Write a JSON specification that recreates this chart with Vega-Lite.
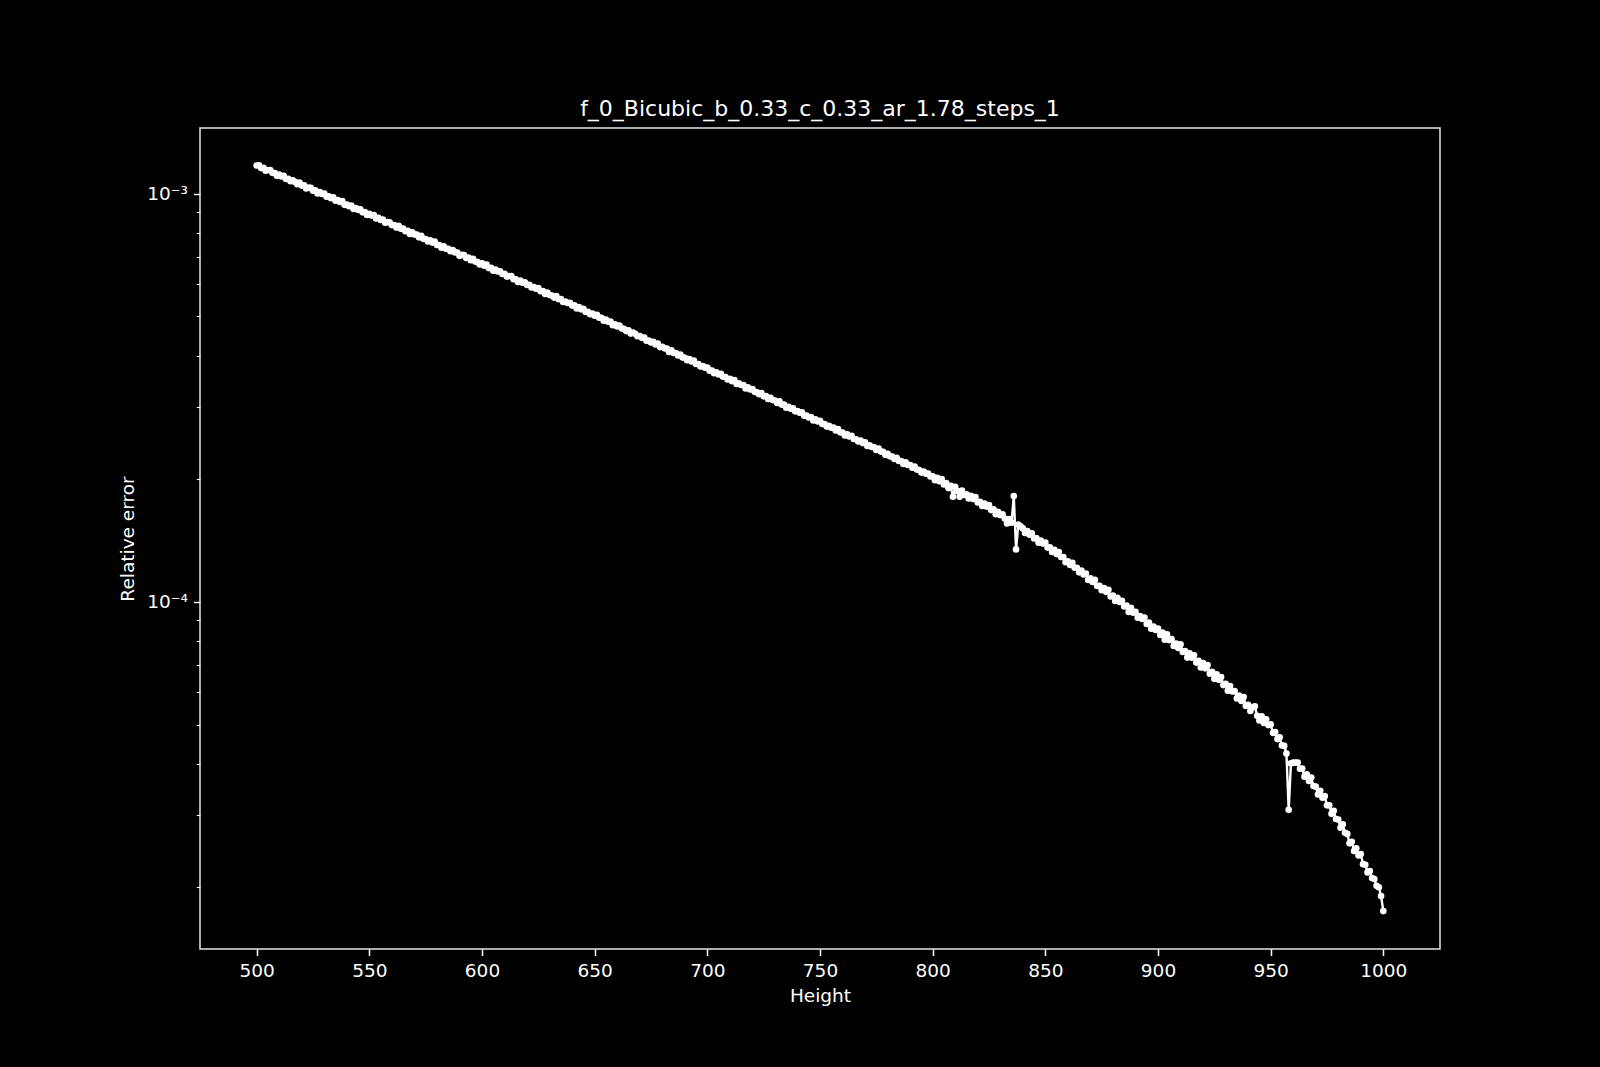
{
"$schema": "https://vega.github.io/schema/vega-lite/v6.json",
"width": 1240,
"height": 821,
"autosize": {"type": "none"},
"padding": {"left": 200, "top": 128, "right": 160, "bottom": 118},
"background": "black",
"config": {"view": {"stroke": "#e6e6e6", "strokeWidth": 1.5}, "font": "DejaVu Sans"},
"title": {"text": "f_0_Bicubic_b_0.33_c_0.33_ar_1.78_steps_1", "font": "DejaVu Sans", "fontSize": 22, "fontWeight": "normal", "color": "white", "baseline": "alphabetic", "offset": -10, "frame": "group"},
"data": {"values": [
{"h":500,"e":0.0011722},{"h":501,"e":0.0011728},{"h":502,"e":0.0011548},{"h":503,"e":0.0011565},{"h":504,"e":0.0011374},{"h":505,"e":0.0011425},{"h":506,"e":0.0011419},{"h":507,"e":0.0011244},{"h":508,"e":0.0011227},{"h":509,"e":0.0011054},
{"h":510,"e":0.0011136},{"h":511,"e":0.001101},{"h":512,"e":0.0011059},{"h":513,"e":0.0010856},{"h":514,"e":0.0010872},{"h":515,"e":0.0010725},{"h":516,"e":0.0010785},{"h":517,"e":0.0010683},{"h":518,"e":0.0010539},{"h":519,"e":0.0010649},
{"h":520,"e":0.0010464},{"h":521,"e":0.001048},{"h":522,"e":0.0010298},{"h":523,"e":0.0010345},{"h":524,"e":0.0010328},{"h":525,"e":0.0010168},{"h":526,"e":0.0010183},{"h":527,"e":0.0010007},{"h":528,"e":0.0010092},{"h":529,"e":0.0009977},
{"h":530,"e":0.0010001},{"h":531,"e":0.0009828},{"h":532,"e":0.0009843},{"h":533,"e":0.000974},{"h":534,"e":0.0009793},{"h":535,"e":0.0009603},{"h":536,"e":0.0009646},{"h":537,"e":0.0009536},{"h":538,"e":0.0009589},{"h":539,"e":0.0009384},
{"h":540,"e":0.0009406},{"h":541,"e":0.0009309},{"h":542,"e":0.0009351},{"h":543,"e":0.0009169},{"h":544,"e":0.000922},{"h":545,"e":0.0009123},{"h":546,"e":0.0009155},{"h":547,"e":0.0008996},{"h":548,"e":0.000901},{"h":549,"e":0.0008862},
{"h":550,"e":0.0008928},{"h":551,"e":0.0008834},{"h":552,"e":0.0008864},{"h":553,"e":0.0008692},{"h":554,"e":0.0008721},{"h":555,"e":0.000862},{"h":556,"e":0.0008641},{"h":557,"e":0.0008482},{"h":558,"e":0.0008511},{"h":559,"e":0.0008505},
{"h":560,"e":0.0008372},{"h":561,"e":0.0008376},{"h":562,"e":0.0008255},{"h":563,"e":0.000834},{"h":564,"e":0.0008204},{"h":565,"e":0.0008206},{"h":566,"e":0.0008087},{"h":567,"e":0.0008107},{"h":568,"e":0.0007965},{"h":569,"e":0.000804},
{"h":570,"e":0.0007939},{"h":571,"e":0.0007935},{"h":572,"e":0.0007812},{"h":573,"e":0.0007878},{"h":574,"e":0.0007748},{"h":575,"e":0.0007742},{"h":576,"e":0.000763},{"h":577,"e":0.0007679},{"h":578,"e":0.0007584},{"h":579,"e":0.0007624},
{"h":580,"e":0.0007483},{"h":581,"e":0.0007478},{"h":582,"e":0.0007371},{"h":583,"e":0.0007432},{"h":584,"e":0.0007325},{"h":585,"e":0.0007327},{"h":586,"e":0.0007228},{"h":587,"e":0.0007275},{"h":588,"e":0.0007176},{"h":589,"e":0.0007172},
{"h":590,"e":0.0007038},{"h":591,"e":0.0007077},{"h":592,"e":0.0007066},{"h":593,"e":0.0006956},{"h":594,"e":0.0006966},{"h":595,"e":0.0006865},{"h":596,"e":0.0006923},{"h":597,"e":0.0006815},{"h":598,"e":0.0006798},{"h":599,"e":0.0006705},
{"h":600,"e":0.0006748},{"h":601,"e":0.0006656},{"h":602,"e":0.0006698},{"h":603,"e":0.0006568},{"h":604,"e":0.0006576},{"h":605,"e":0.0006473},{"h":606,"e":0.0006514},{"h":607,"e":0.0006445},{"h":608,"e":0.0006453},{"h":609,"e":0.0006352},
{"h":610,"e":0.000636},{"h":611,"e":0.0006261},{"h":612,"e":0.0006283},{"h":613,"e":0.0006284},{"h":614,"e":0.0006168},{"h":615,"e":0.0006169},{"h":616,"e":0.0006073},{"h":617,"e":0.0006123},{"h":618,"e":0.0006047},{"h":619,"e":0.0006066},
{"h":620,"e":0.0005971},{"h":621,"e":0.0005979},{"h":622,"e":0.0005886},{"h":623,"e":0.00059},{"h":624,"e":0.0005849},{"h":625,"e":0.0005868},{"h":626,"e":0.0005765},{"h":627,"e":0.0005772},{"h":628,"e":0.0005675},{"h":629,"e":0.0005722},
{"h":630,"e":0.0005643},{"h":631,"e":0.0005628},{"h":632,"e":0.0005562},{"h":633,"e":0.0005607},{"h":634,"e":0.0005508},{"h":635,"e":0.0005515},{"h":636,"e":0.0005424},{"h":637,"e":0.0005441},{"h":638,"e":0.0005394},{"h":639,"e":0.0005399},
{"h":640,"e":0.0005315},{"h":641,"e":0.0005321},{"h":642,"e":0.0005228},{"h":643,"e":0.000527},{"h":644,"e":0.0005204},{"h":645,"e":0.0005219},{"h":646,"e":0.0005127},{"h":647,"e":0.0005129},{"h":648,"e":0.0005063},{"h":649,"e":0.0005085},
{"h":650,"e":0.000502},{"h":651,"e":0.0005045},{"h":652,"e":0.0004966},{"h":653,"e":0.0004961},{"h":654,"e":0.0004883},{"h":655,"e":0.0004911},{"h":656,"e":0.0004853},{"h":657,"e":0.0004858},{"h":658,"e":0.0004757},{"h":659,"e":0.0004781},
{"h":660,"e":0.0004723},{"h":661,"e":0.0004747},{"h":662,"e":0.0004672},{"h":663,"e":0.0004664},{"h":664,"e":0.0004603},{"h":665,"e":0.0004621},{"h":666,"e":0.0004539},{"h":667,"e":0.0004563},{"h":668,"e":0.0004532},{"h":669,"e":0.0004472},
{"h":670,"e":0.0004476},{"h":671,"e":0.0004432},{"h":672,"e":0.000444},{"h":673,"e":0.0004357},{"h":674,"e":0.0004365},{"h":675,"e":0.0004318},{"h":676,"e":0.0004331},{"h":677,"e":0.000427},{"h":678,"e":0.0004291},{"h":679,"e":0.0004206},
{"h":680,"e":0.0004213},{"h":681,"e":0.0004176},{"h":682,"e":0.0004172},{"h":683,"e":0.0004092},{"h":684,"e":0.0004129},{"h":685,"e":0.0004071},{"h":686,"e":0.0004067},{"h":687,"e":0.000401},{"h":688,"e":0.0004034},{"h":689,"e":0.0003969},
{"h":690,"e":0.0003961},{"h":691,"e":0.0003905},{"h":692,"e":0.000393},{"h":693,"e":0.0003878},{"h":694,"e":0.0003898},{"h":695,"e":0.0003824},{"h":696,"e":0.0003824},{"h":697,"e":0.000377},{"h":698,"e":0.0003781},{"h":699,"e":0.0003743},
{"h":700,"e":0.0003746},{"h":701,"e":0.0003683},{"h":702,"e":0.0003686},{"h":703,"e":0.0003628},{"h":704,"e":0.0003649},{"h":705,"e":0.0003605},{"h":706,"e":0.0003615},{"h":707,"e":0.0003558},{"h":708,"e":0.0003551},{"h":709,"e":0.0003505},
{"h":710,"e":0.0003515},{"h":711,"e":0.0003469},{"h":712,"e":0.000349},{"h":713,"e":0.0003417},{"h":714,"e":0.0003427},{"h":715,"e":0.0003396},{"h":716,"e":0.0003396},{"h":717,"e":0.0003329},{"h":718,"e":0.0003351},{"h":719,"e":0.0003311},
{"h":720,"e":0.0003318},{"h":721,"e":0.0003268},{"h":722,"e":0.0003261},{"h":723,"e":0.0003223},{"h":724,"e":0.0003245},{"h":725,"e":0.0003186},{"h":726,"e":0.000319},{"h":727,"e":0.0003139},{"h":728,"e":0.0003159},{"h":729,"e":0.0003121},
{"h":730,"e":0.0003111},{"h":731,"e":0.0003068},{"h":732,"e":0.0003096},{"h":733,"e":0.0003041},{"h":734,"e":0.0003043},{"h":735,"e":0.0002989},{"h":736,"e":0.0003001},{"h":737,"e":0.0002971},{"h":738,"e":0.0002978},{"h":739,"e":0.0002927},
{"h":740,"e":0.0002933},{"h":741,"e":0.0002904},{"h":742,"e":0.000291},{"h":743,"e":0.0002855},{"h":744,"e":0.0002858},{"h":745,"e":0.0002829},{"h":746,"e":0.0002835},{"h":747,"e":0.0002779},{"h":748,"e":0.0002799},{"h":749,"e":0.0002765},
{"h":750,"e":0.0002776},{"h":751,"e":0.0002727},{"h":752,"e":0.0002726},{"h":753,"e":0.0002686},{"h":754,"e":0.0002696},{"h":755,"e":0.0002669},{"h":756,"e":0.0002672},{"h":757,"e":0.0002627},{"h":758,"e":0.0002648},{"h":759,"e":0.00026},
{"h":760,"e":0.0002597},{"h":761,"e":0.0002555},{"h":762,"e":0.0002571},{"h":763,"e":0.000254},{"h":764,"e":0.0002548},{"h":765,"e":0.0002504},{"h":766,"e":0.0002501},{"h":767,"e":0.0002469},{"h":768,"e":0.0002481},{"h":769,"e":0.0002447},
{"h":770,"e":0.0002459},{"h":771,"e":0.0002407},{"h":772,"e":0.0002417},{"h":773,"e":0.0002393},{"h":774,"e":0.0002391},{"h":775,"e":0.0002354},{"h":776,"e":0.0002372},{"h":777,"e":0.0002332},{"h":778,"e":0.0002329},{"h":779,"e":0.000229},
{"h":780,"e":0.0002304},{"h":781,"e":0.0002272},{"h":782,"e":0.0002267},{"h":783,"e":0.0002237},{"h":784,"e":0.0002252},{"h":785,"e":0.0002213},{"h":786,"e":0.0002212},{"h":787,"e":0.0002175},{"h":788,"e":0.0002194},{"h":789,"e":0.0002164},
{"h":790,"e":0.0002163},{"h":791,"e":0.000213},{"h":792,"e":0.0002144},{"h":793,"e":0.0002108},{"h":794,"e":0.0002102},{"h":795,"e":0.0002072},{"h":796,"e":0.0002084},{"h":797,"e":0.0002059},{"h":798,"e":0.0002061},{"h":799,"e":0.0002028},
{"h":800,"e":0.0002029},{"h":801,"e":0.0001985},{"h":802,"e":0.0002012},{"h":803,"e":0.0001974},{"h":804,"e":0.0001997},{"h":805,"e":0.0001937},{"h":806,"e":0.0001952},{"h":807,"e":0.0001898},{"h":808,"e":0.0001922},{"h":809,"e":0.0001808},
{"h":810,"e":0.0001911},{"h":811,"e":0.0001866},{"h":812,"e":0.0001808},{"h":813,"e":0.0001871},{"h":814,"e":0.0001826},{"h":815,"e":0.0001833},{"h":816,"e":0.000179},{"h":817,"e":0.0001818},{"h":818,"e":0.0001785},{"h":819,"e":0.0001804},
{"h":820,"e":0.0001751},{"h":821,"e":0.0001758},{"h":822,"e":0.0001717},{"h":823,"e":0.000174},{"h":824,"e":0.0001709},{"h":825,"e":0.0001726},{"h":826,"e":0.0001677},{"h":827,"e":0.0001685},{"h":828,"e":0.0001638},{"h":829,"e":0.0001661},
{"h":830,"e":0.000163},{"h":831,"e":0.0001638},{"h":832,"e":0.0001598},{"h":833,"e":0.0001555},{"h":834,"e":0.0001594},{"h":835,"e":0.0001562},{"h":836,"e":0.0001815},{"h":837,"e":0.0001343},{"h":838,"e":0.0001545},{"h":839,"e":0.000153},
{"h":840,"e":0.0001512},{"h":841,"e":0.0001474},{"h":842,"e":0.000149},{"h":843,"e":0.0001459},{"h":844,"e":0.0001471},{"h":845,"e":0.0001428},{"h":846,"e":0.0001431},{"h":847,"e":0.0001395},{"h":848,"e":0.0001412},{"h":849,"e":0.0001388},
{"h":850,"e":0.0001395},{"h":851,"e":0.0001357},{"h":852,"e":0.0001359},{"h":853,"e":0.0001324},{"h":854,"e":0.000134},{"h":855,"e":0.0001308},{"h":856,"e":0.0001323},{"h":857,"e":0.0001287},{"h":858,"e":0.0001286},{"h":859,"e":0.000125},
{"h":860,"e":0.0001256},{"h":861,"e":0.000123},{"h":862,"e":0.0001245},{"h":863,"e":0.0001211},{"h":864,"e":0.0001211},{"h":865,"e":0.000118},{"h":866,"e":0.0001192},{"h":867,"e":0.0001166},{"h":868,"e":0.0001172},{"h":869,"e":0.000113},
{"h":870,"e":0.0001141},{"h":871,"e":0.0001118},{"h":872,"e":0.0001131},{"h":873,"e":0.0001093},{"h":874,"e":0.0001094},{"h":875,"e":0.0001067},{"h":876,"e":0.000108},{"h":877,"e":0.0001057},{"h":878,"e":0.0001069},{"h":879,"e":0.000103},
{"h":880,"e":0.0001035},{"h":881,"e":0.0001004},{"h":882,"e":0.0001022},{"h":883,"e":0.0000998},{"h":884,"e":0.0001005},{"h":885,"e":0.00009738},{"h":886,"e":0.00009782},{"h":887,"e":0.00009439},{"h":888,"e":0.00009663},{"h":889,"e":0.000094},
{"h":890,"e":0.00009438},{"h":891,"e":0.00009136},{"h":892,"e":0.00009215},{"h":893,"e":0.00009071},{"h":894,"e":0.00009145},{"h":895,"e":0.00008815},{"h":896,"e":0.00008891},{"h":897,"e":0.00008588},{"h":898,"e":0.00008686},{"h":899,"e":0.00008525},
{"h":900,"e":0.00008594},{"h":901,"e":0.00008284},{"h":902,"e":0.00008404},{"h":903,"e":0.00008066},{"h":904,"e":0.00008313},{"h":905,"e":0.00008052},{"h":906,"e":0.00008094},{"h":907,"e":0.00007793},{"h":908,"e":0.00007898},{"h":909,"e":0.00007703},
{"h":910,"e":0.00007857},{"h":911,"e":0.0000753},{"h":912,"e":0.0000757},{"h":913,"e":0.00007294},{"h":914,"e":0.00007473},{"h":915,"e":0.00007288},{"h":916,"e":0.00007393},{"h":917,"e":0.00007091},{"h":918,"e":0.00007164},{"h":919,"e":0.00006902},
{"h":920,"e":0.00007071},{"h":921,"e":0.00006865},{"h":922,"e":0.00006996},{"h":923,"e":0.00006663},{"h":924,"e":0.00006731},{"h":925,"e":0.00006471},{"h":926,"e":0.00006641},{"h":927,"e":0.00006434},{"h":928,"e":0.00006539},{"h":929,"e":0.00006246},
{"h":930,"e":0.00006291},{"h":931,"e":0.00006053},{"h":932,"e":0.00006216},{"h":933,"e":0.00006028},{"h":934,"e":0.00006041},{"h":935,"e":0.00005792},{"h":936,"e":0.00005884},{"h":937,"e":0.00005712},{"h":938,"e":0.0000584},{"h":939,"e":0.00005551},
{"h":940,"e":0.00005586},{"h":941,"e":0.00005396},{"h":942,"e":0.00005513},{"h":943,"e":0.0000554},{"h":944,"e":0.00005251},{"h":945,"e":0.00005115},{"h":946,"e":0.00005239},{"h":947,"e":0.00005046},{"h":948,"e":0.00005149},{"h":949,"e":0.00004984},
{"h":950,"e":0.00005004},{"h":951,"e":0.0000477},{"h":952,"e":0.00004792},{"h":953,"e":0.00004606},{"h":954,"e":0.00004651},{"h":955,"e":0.00004445},{"h":956,"e":0.00004432},{"h":957,"e":0.00004245},{"h":958,"e":0.0000309},{"h":959,"e":0.00004015},
{"h":960,"e":0.00004033},{"h":961,"e":0.00004032},{"h":962,"e":0.00004036},{"h":963,"e":0.00003895},{"h":964,"e":0.00003902},{"h":965,"e":0.00003726},{"h":966,"e":0.00003773},{"h":967,"e":0.00003636},{"h":968,"e":0.00003706},{"h":969,"e":0.00003535},
{"h":970,"e":0.00003522},{"h":971,"e":0.0000337},{"h":972,"e":0.00003441},{"h":973,"e":0.00003309},{"h":974,"e":0.00003338},{"h":975,"e":0.00003169},{"h":976,"e":0.00003169},{"h":977,"e":0.00003021},{"h":978,"e":0.00003074},{"h":979,"e":0.00002935},
{"h":980,"e":0.00002924},{"h":981,"e":0.00002793},{"h":982,"e":0.00002847},{"h":983,"e":0.00002715},{"h":984,"e":0.00002697},{"h":985,"e":0.00002558},{"h":986,"e":0.00002579},{"h":987,"e":0.00002449},{"h":988,"e":0.00002486},{"h":989,"e":0.00002389},
{"h":990,"e":0.00002408},{"h":991,"e":0.00002274},{"h":992,"e":0.00002267},{"h":993,"e":0.00002171},{"h":994,"e":0.00002187},{"h":995,"e":0.00002103},{"h":996,"e":0.00002091},{"h":997,"e":0.00002012},{"h":998,"e":0.00001996},{"h":999,"e":0.000019},
{"h":1000,"e":0.00001745}
]},
"encoding": {
"x": {"field": "h", "type": "quantitative", "scale": {"domain": [474.85, 1025.15], "nice": false, "zero": false},
"axis": {"values": [500, 550, 600, 650, 700, 750, 800, 850, 900, 950, 1000], "format": "d", "title": "Height", "domain": false, "grid": false, "tickColor": "white", "tickSize": 6.5, "tickWidth": 1.5, "labelPadding": 6, "labelFontSize": 18.5, "labelColor": "white", "labelFont": "DejaVu Sans", "titleFont": "DejaVu Sans", "titleFontSize": 18.5, "titleFontWeight": "normal", "titleColor": "white", "titlePadding": 6}},
"y": {"field": "e", "type": "quantitative", "scale": {"type": "log", "domain": [1.409e-5, 1.448e-3], "nice": false, "zero": false},
"axis": {"orient": "left", "values": [0.00002, 0.00003, 0.00004, 0.00005, 0.00006, 0.00007, 0.00008, 0.00009, 0.0001, 0.0002, 0.0003, 0.0004, 0.0005, 0.0006, 0.0007, 0.0008, 0.0009, 0.001], "labelExpr": "datum.value == 0.001 ? '10⁻³' : (datum.value == 0.0001 ? '10⁻⁴' : '')", "title": "Relative error", "domain": false, "grid": false, "tickColor": "white",
"tickSize": {"condition": {"test": "datum.value == 0.001 || datum.value == 0.0001", "value": 6.5}, "value": 3.7},
"tickWidth": {"condition": {"test": "datum.value == 0.001 || datum.value == 0.0001", "value": 1.5}, "value": 1.1},
"labelPadding": 6, "labelFontSize": 18.5, "labelColor": "white", "labelFont": "DejaVu Sans", "titleFont": "DejaVu Sans", "titleFontSize": 18.5, "titleFontWeight": "normal", "titleColor": "white", "titlePadding": 9}}
},
"layer": [
{"mark": {"type": "line", "color": "white", "strokeWidth": 2.4}},
{"mark": {"type": "point", "filled": true, "color": "white", "size": 44, "opacity": 1}}
]
}
